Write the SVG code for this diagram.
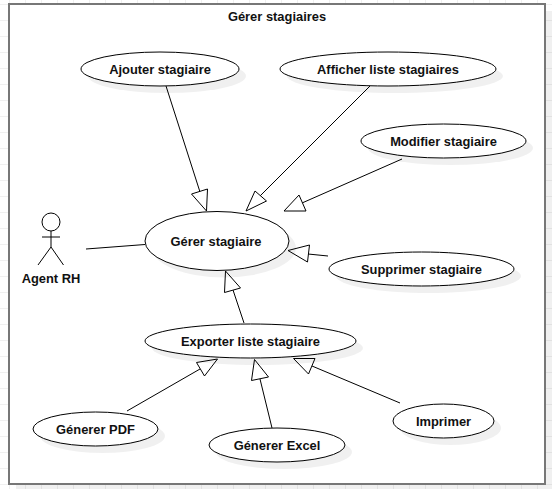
<svg xmlns="http://www.w3.org/2000/svg" width="552" height="489" viewBox="0 0 552 489">
<style>
.t{font-family:"Liberation Sans",Arial,sans-serif;font-size:12.900px;font-weight:bold;fill:#111;text-anchor:middle}
.u{fill:#fff;stroke:#000;stroke-width:1}
.s{fill:#000;fill-opacity:.06;stroke:none}
.c{fill:none;stroke:#000;stroke-width:1}
.h{fill:#fff;stroke:#000;stroke-width:1;stroke-linejoin:miter}
.g{stroke:#f0f0f0;stroke-width:1}
</style>
<defs>
<pattern id="grid" width="16" height="16" patternUnits="userSpaceOnUse" x="0" y="4">
<path d="M0 .5H16M9.5 0V16" class="g" fill="none"/>
</pattern>
</defs>
<rect width="552" height="489" fill="#fff"/>
<rect width="552" height="489" fill="url(#grid)"/>
<rect x="16" y="11" width="536" height="478" fill="#000" fill-opacity=".06"/>
<g id="frame">
<rect x="9" y="4" width="536" height="480" fill="#fff" stroke="#777" stroke-width="2"/>
<text class="t" x="277" y="21">Gérer stagiaires</text>
</g>
<g id="connectors">
<path class="c" d="M166 86L200 192"/><path class="h" d="M206.500 211L191.500 194L207.500 189Z"/>
<path class="c" d="M370 86L260 196"/><path class="h" d="M246 211L255 191L266.500 201Z"/>
<path class="c" d="M402 159L302 203"/><path class="h" d="M284 211L299 195L306 211Z"/>
<path class="c" d="M328 256L308 254"/><path class="h" d="M288 250.500L309.500 245L307.500 262Z"/>
<path class="c" d="M244 323L233 290"/><path class="h" d="M225.500 271L240.500 288L224.500 292.500Z"/>
<path class="c" d="M127 411L200 369"/><path class="h" d="M217.500 359L196.500 362.500L204.500 376Z"/>
<path class="c" d="M272 428L260 379"/><path class="h" d="M254.500 359.500L268.500 377L251.500 380.500Z"/>
<path class="c" d="M400 403L312 366"/><path class="h" d="M293.500 358.500L315 358.500L308.500 374Z"/>
<path class="c" d="M86 249L145 244.500"/>
</g>
<g id="agent-rh">
<circle class="u" cx="51" cy="222" r="9"/>
<path class="c" d="M51 231V247M42 237H60M38 265L51 247L63.500 265"/>
<text class="t" x="51" y="283">Agent RH</text>
</g>
<g id="ajouter"><ellipse class="s" cx="167" cy="76" rx="79" ry="17"/><ellipse class="u" cx="160" cy="69" rx="79" ry="17"/><text class="t" x="160" y="74">Ajouter stagiaire</text></g>
<g id="afficher"><ellipse class="s" cx="395" cy="76" rx="108" ry="17"/><ellipse class="u" cx="388" cy="69" rx="108" ry="17"/><text class="t" x="388" y="74">Afficher liste stagiaires</text></g>
<g id="modifier"><ellipse class="s" cx="450.500" cy="148" rx="82.500" ry="17"/><ellipse class="u" cx="443.500" cy="141" rx="82.500" ry="17"/><text class="t" x="443.500" y="146">Modifier stagiaire</text></g>
<g id="gerer"><ellipse class="s" cx="224" cy="248" rx="72" ry="29.500"/><ellipse class="u" cx="217" cy="241" rx="72" ry="29.500"/><text class="t" x="216" y="246">Gérer stagiaire</text></g>
<g id="supprimer"><ellipse class="s" cx="428.500" cy="276" rx="92.500" ry="17"/><ellipse class="u" cx="421.500" cy="269" rx="92.500" ry="17"/><text class="t" x="421.500" y="274">Supprimer stagiaire</text></g>
<g id="exporter"><ellipse class="s" cx="257.500" cy="348" rx="105.500" ry="17"/><ellipse class="u" cx="250.500" cy="341" rx="105.500" ry="17"/><text class="t" x="250.500" y="346">Exporter liste stagiaire</text></g>
<g id="pdf"><ellipse class="s" cx="102.500" cy="436" rx="62.500" ry="17"/><ellipse class="u" cx="95.500" cy="429" rx="62.500" ry="17"/><text class="t" x="95.500" y="434">Génerer PDF</text></g>
<g id="excel"><ellipse class="s" cx="284" cy="452" rx="68" ry="17"/><ellipse class="u" cx="277" cy="445" rx="68" ry="17"/><text class="t" x="277" y="450">Génerer Excel</text></g>
<g id="imprimer"><ellipse class="s" cx="450.500" cy="428" rx="50.500" ry="17"/><ellipse class="u" cx="443.500" cy="421" rx="50.500" ry="17"/><text class="t" x="443.500" y="426">Imprimer</text></g>
</svg>
